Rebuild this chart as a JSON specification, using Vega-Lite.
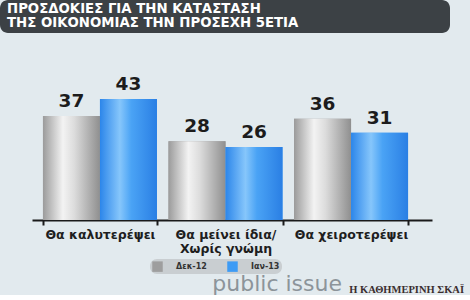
{
  "$schema": "https://vega.github.io/schema/vega-lite/v6.json",
  "background": "#e2eaee",
  "padding": 0,
  "spacing": 0,
  "config": {"view": {"stroke": null}, "font": "DejaVu Sans"},
  "title": {
    "text": "public issue",
    "orient": "bottom",
    "anchor": "end",
    "dx": -128,
    "offset": -21,
    "fontSize": 22,
    "fontWeight": "normal",
    "font": "DejaVu Sans",
    "color": "#8c949a"
  },
  "vconcat": [
    {
      "width": 450,
      "height": 33,
      "view": {"fill": "#3c4145", "stroke": null, "cornerRadius": 8},
      "title": {
        "text": ["ΠΡΟΣΔΟΚΙΕΣ ΓΙΑ ΤΗΝ ΚΑΤΑΣΤΑΣΗ", "ΤΗΣ ΟΙΚΟΝΟΜΙΑΣ ΤΗΝ ΠΡΟΣΕΧΗ 5ΕΤΙΑ"],
        "orient": "bottom",
        "anchor": "start",
        "offset": -31,
        "dx": 7,
        "color": "#ffffff",
        "font": "DejaVu Sans",
        "fontWeight": "bold",
        "fontSize": 13.3,
        "lineHeight": 14
      },
      "data": {"values": [{"d": 1}]},
      "mark": {"type": "point", "opacity": 0},
      "encoding": {}
    },
    {
      "width": 470,
      "height": 187,
      "title": {
        "text": "Η ΚΑΘΗΜΕΡΙΝΗ   ΣΚΑΪ",
        "orient": "bottom",
        "anchor": "end",
        "offset": 30,
        "dx": -6,
        "font": "Liberation Serif",
        "fontWeight": "bold",
        "fontSize": 10.5,
        "color": "#3a2e2e"
      },
      "data": {
        "values": [
          {"cat": "Θα καλυτερέψει", "s": "Δεκ-12", "v": 37},
          {"cat": "Θα καλυτερέψει", "s": "Ιαν-13", "v": 43},
          {"cat": "Θα μείνει ίδια/ Χωρίς γνώμη", "s": "Δεκ-12", "v": 28},
          {"cat": "Θα μείνει ίδια/ Χωρίς γνώμη", "s": "Ιαν-13", "v": 26},
          {"cat": "Θα χειροτερέψει", "s": "Δεκ-12", "v": 36},
          {"cat": "Θα χειροτερέψει", "s": "Ιαν-13", "v": 31}
        ]
      },
      "encoding": {
        "x": {
          "field": "cat",
          "type": "nominal",
          "sort": null,
          "scale": {"range": [32, 432], "paddingInner": 0.092, "paddingOuter": 0.139, "align": 0.314},
          "axis": {
            "title": null,
            "labelAngle": 0,
            "domainColor": "#1a1a1a",
            "domainWidth": 2,
            "tickColor": "#1a1a1a",
            "tickWidth": 2,
            "tickSize": 5,
            "tickBand": "extent",
            "labelFont": "DejaVu Sans",
            "labelFontWeight": "bold",
            "labelFontSize": 12.5,
            "labelColor": "#1e1e1e",
            "labelPadding": 3,
            "labelLineHeight": 14,
            "labelOverlap": false,
            "labelLimit": 200,
            "labelExpr": "datum.value == 'Θα μείνει ίδια/ Χωρίς γνώμη' ? ['Θα μείνει ίδια/', 'Χωρίς γνώμη'] : datum.value"
          }
        },
        "xOffset": {"field": "s", "type": "nominal", "scale": {"domain": ["Δεκ-12", "Ιαν-13"]}},
        "y": {"field": "v", "type": "quantitative", "scale": {"domain": [0, 66.5]}, "axis": null}
      },
      "layer": [
        {
          "mark": {"type": "bar"},
          "encoding": {
            "color": {
              "field": "s",
              "type": "nominal",
              "scale": {"domain": ["Δεκ-12", "Ιαν-13"], "range": ["#9e9e9e", "#3d9bf5"]},
              "legend": {
                "title": null,
                "orient": "none",
                "legendX": 150,
                "legendY": 259,
                "direction": "horizontal",
                "fillColor": "#c9ced1",
                "cornerRadius": 7,
                "padding": 2,
                "symbolType": "square",
                "symbolSize": 110,
                "symbolStrokeWidth": 0,
                "labelFontSize": 8,
                "labelFontWeight": "bold",
                "labelColor": "#333333",
                "labelOffset": 13,
                "columnPadding": 20,
                "symbolOpacity": 1
              }
            }
          }
        },
        {
          "transform": [{"filter": "datum.s === 'Δεκ-12'"}],
          "mark": {
            "type": "bar",
            "fill": {
              "gradient": "linear", "x1": 0, "x2": 1, "y1": 0, "y2": 0,
              "stops": [
                {"offset": 0, "color": "#9b9b9b"},
                {"offset": 0.35, "color": "#f3f3f3"},
                {"offset": 0.55, "color": "#dcdcdc"},
                {"offset": 1, "color": "#8f8f8f"}
              ]
            }
          }
        },
        {
          "transform": [{"filter": "datum.s === 'Ιαν-13'"}],
          "mark": {
            "type": "bar",
            "fill": {
              "gradient": "linear", "x1": 0, "x2": 1, "y1": 0, "y2": 0,
              "stops": [
                {"offset": 0, "color": "#2c86ea"},
                {"offset": 0.35, "color": "#86c6fb"},
                {"offset": 0.55, "color": "#4aa3f5"},
                {"offset": 1, "color": "#2a7fe4"}
              ]
            }
          }
        },
        {
          "mark": {"type": "text", "baseline": "bottom", "dy": -5, "fontSize": 18.5, "fontWeight": "bold", "font": "DejaVu Sans", "color": "#1c1c1c"},
          "encoding": {"text": {"field": "v", "type": "quantitative"}}
        }
      ]
    }
  ]
}
